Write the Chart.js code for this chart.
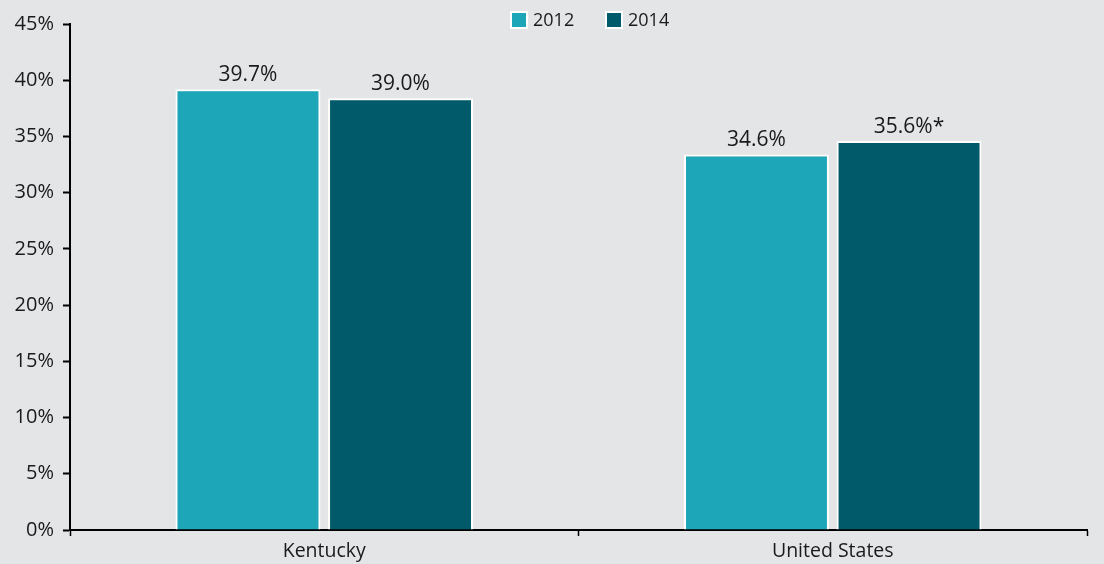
<!DOCTYPE html>
<html>
<head>
<meta charset="utf-8">
<script src="https://cdn.jsdelivr.net/npm/chart.js@4/dist/chart.umd.min.js"></script>
<style>
  html, body { margin: 0; padding: 0; background: #e4e5e7; }
  #wrap { width: 1104px; height: 564px; }
</style>
</head>
<body>
<div id="wrap"><canvas id="c" width="1104" height="564"></canvas></div>
<script>
const categories = ["Kentucky", "United States"];
const seriesNames = ["2012", "2014"];
const values2012 = [39.2, 33.4];
const values2014 = [38.4, 34.6];
const labels2012 = ["39.7%", "34.6%"];
const labels2014 = ["39.0%", "35.6%*"];
const colors = ["#1da6b8", "#005a69"];

const FONT = "'Open Sans', 'Noto Sans', sans-serif";
const TEXT = "#1a1a1a";

const dataLabelPlugin = {
  id: "dataLabels",
  afterDatasetsDraw(chart) {
    const ctx = chart.ctx;
    const lbls = [labels2012, labels2014];
    ctx.save();
    ctx.font = "21px " + FONT;
    ctx.fillStyle = TEXT;
    ctx.textAlign = "center";
    ctx.textBaseline = "middle";
    chart.data.datasets.forEach((ds, di) => {
      const meta = chart.getDatasetMeta(di);
      meta.data.forEach((bar, i) => {
        ctx.fillText(lbls[di][i], bar.x, bar.y - 14);
      });
    });
    ctx.restore();
  }
};

const legendPlugin = {
  id: "customLegend",
  afterDraw(chart) {
    const ctx = chart.ctx;
    ctx.save();
    ctx.font = "18px " + FONT;
    ctx.textBaseline = "middle";
    ctx.textAlign = "left";
    const y = 20;
    let x = 510;
    chart.data.datasets.forEach((ds, i) => {
      ctx.fillStyle = "#ffffff";
      ctx.fillRect(x, y - 9, 18, 18);
      ctx.fillStyle = ds.backgroundColor;
      ctx.fillRect(x + 2, y - 7, 14, 14);
      ctx.fillStyle = TEXT;
      ctx.fillText(ds.label, x + 23, y + 1);
      x += 95;
    });
    ctx.restore();
  }
};

new Chart(document.getElementById("c"), {
  type: "bar",
  data: {
    labels: categories,
    datasets: [
      { label: seriesNames[0], data: values2012, backgroundColor: colors[0], borderColor: "#ffffff", borderWidth: 2, borderSkipped: "bottom" },
      { label: seriesNames[1], data: values2014, backgroundColor: colors[1], borderColor: "#ffffff", borderWidth: 2, borderSkipped: "bottom" }
    ]
  },
  options: {
    responsive: false,
    animation: false,
    layout: { padding: { top: 24, right: 17, left: 0, bottom: 0 } },
    datasets: { bar: { categoryPercentage: 0.6, barPercentage: 0.95 } },
    plugins: { legend: { display: false }, tooltip: { enabled: false } },
    scales: {
      x: {
        afterFit(scale) { scale.height = 34; },
        grid: { display: true, drawOnChartArea: false, drawTicks: true, tickLength: 6, tickColor: "#000", tickWidth: 1.5, offset: true },
        border: { display: true, color: "#000", width: 2 },
        ticks: { color: TEXT, font: { family: FONT, size: 19.5 }, padding: 4 }
      },
      y: {
        min: 0, max: 45,
        afterFit(scale) { scale.width = 70; },
        grid: { display: true, drawOnChartArea: false, drawTicks: true, tickLength: 7, tickColor: "#000", tickWidth: 2 },
        border: { display: true, color: "#000", width: 2 },
        ticks: { stepSize: 5, color: TEXT, font: { family: FONT, size: 20 }, padding: 9, callback: v => v + "%" }
      }
    }
  },
  plugins: [dataLabelPlugin, legendPlugin]
});
</script>
</body>
</html>
